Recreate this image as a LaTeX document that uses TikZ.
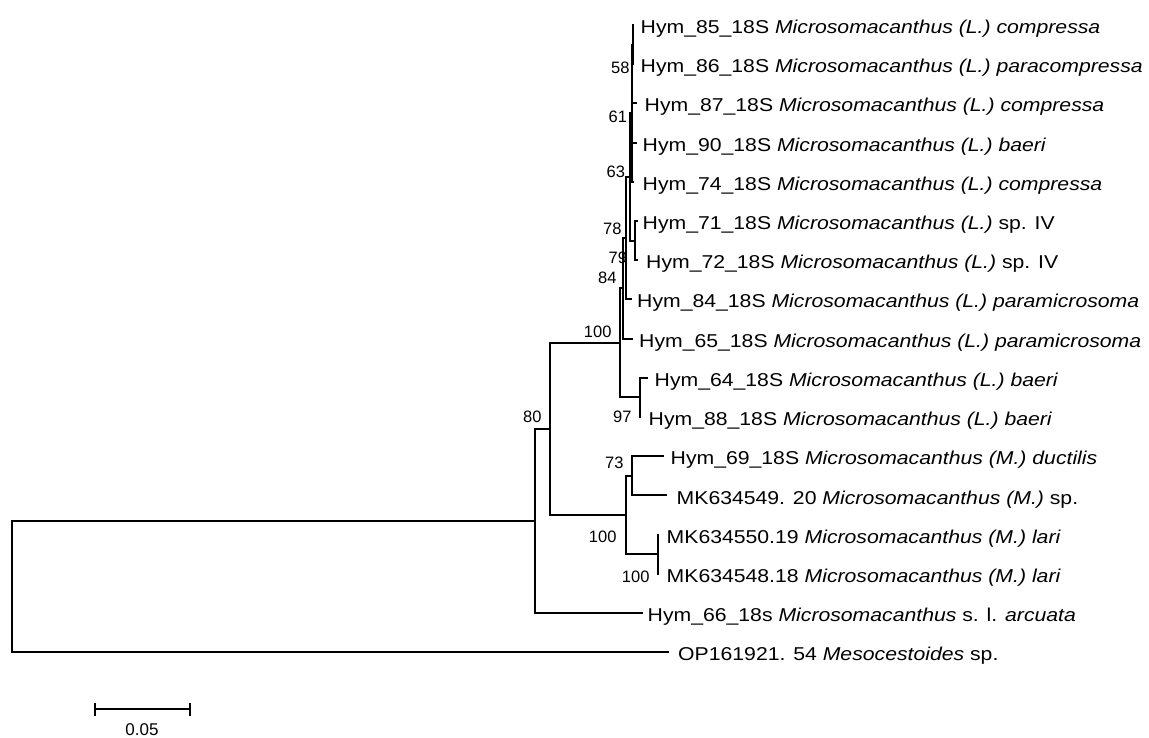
\documentclass[tikz,border=0pt]{standalone}
\usepackage{fontspec}
\setmainfont{Liberation Sans}
\usetikzlibrary{arrows.meta}

\begin{document}
\begin{tikzpicture}[x=1pt, y=-1pt, line width=2.1pt, line cap=rect]
  \tikzset{
    taxon_node/.style={anchor=base west, inner sep=0pt, xscale=1.14, font=\fontsize{18.6}{20}\selectfont},
    boot_node/.style={anchor=east, inner sep=0pt, font=\fontsize{16.5}{18}\selectfont},
    scale_node/.style={inner sep=0pt, font=\fontsize{17}{18}\selectfont}
  }
  \useasboundingbox (0,0) rectangle (1149,738);

  % Nodos internos del árbol
  \coordinate (root) at (12,586.6);
  \coordinate (n_out) at (535,521);
  \coordinate (n80) at (550,429);
  \coordinate (n100a) at (620,342.9);
  \coordinate (n84) at (623,288.4);
  \coordinate (n78) at (626,238.2);
  \coordinate (n63) at (630,176.9);
  \coordinate (n_top) at (632,113.2);
  \coordinate (n58) at (633,44.6);
  \coordinate (n79) at (635,240.6);
  \coordinate (n97) at (640,397.4);
  \coordinate (n100b) at (626,515);
  \coordinate (n73) at (632,475.8);
  \coordinate (n100c) at (658,554.2);

  % Extremos de las ramas terminales
  \coordinate (t85) at (633,25);
  \coordinate (t86) at (633,64.2);
  \coordinate (t87) at (636,103.4);
  \coordinate (t90) at (636,142.6);
  \coordinate (t74) at (633,181.8);
  \coordinate (t71) at (637,221);
  \coordinate (t72) at (637,260.2);
  \coordinate (t84) at (631,299.4);
  \coordinate (t65) at (632,338.6);
  \coordinate (t64) at (647,377.8);
  \coordinate (t88) at (640,417);
  \coordinate (t69) at (663,456.2);
  \coordinate (t549) at (666,495.4);
  \coordinate (t550) at (658,534.6);
  \coordinate (t548) at (658,573.8);
  \coordinate (t66) at (642,613);
  \coordinate (t_op) at (668,652.2);

  % Nombres de los taxones
  \node[taxon_node] (l85) at (639.5,33.6) {Hym\_85\_18S \textit{Microsomacanthus (L.) compressa}};
  \node[taxon_node] (l86) at (639.5,72.8) {Hym\_86\_18S \textit{Microsomacanthus (L.) paracompressa}};
  \node[taxon_node] (l87) at (643.5,112) {Hym\_87\_18S \textit{Microsomacanthus (L.) compressa}};
  \node[taxon_node] (l90) at (641.5,151.2) {Hym\_90\_18S \textit{Microsomacanthus (L.) baeri}};
  \node[taxon_node] (l74) at (641.5,190.4) {Hym\_74\_18S \textit{Microsomacanthus (L.) compressa}};
  \node[taxon_node] (l71) at (641.5,229.6) {Hym\_71\_18S \textit{Microsomacanthus (L.)} sp. IV};
  \node[taxon_node] (l72) at (645,268.8) {Hym\_72\_18S \textit{Microsomacanthus (L.)} sp. IV};
  \node[taxon_node] (l84) at (636,308) {Hym\_84\_18S \textit{Microsomacanthus (L.) paramicrosoma}};
  \node[taxon_node] (l65) at (638,347.2) {Hym\_65\_18S \textit{Microsomacanthus (L.) paramicrosoma}};
  \node[taxon_node] (l64) at (653.5,386.4) {Hym\_64\_18S \textit{Microsomacanthus (L.) baeri}};
  \node[taxon_node] (l88) at (647.5,425.6) {Hym\_88\_18S \textit{Microsomacanthus (L.) baeri}};
  \node[taxon_node] (l69) at (669.5,464.8) {Hym\_69\_18S \textit{Microsomacanthus (M.) ductilis}};
  \node[taxon_node] (l549) at (675.5,504) {MK634549. 20 \textit{Microsomacanthus (M.)} sp.};
  \node[taxon_node] (l550) at (665.5,543.2) {MK634550.19 \textit{Microsomacanthus (M.) lari}};
  \node[taxon_node] (l548) at (665.5,582.4) {MK634548.18 \textit{Microsomacanthus (M.) lari}};
  \node[taxon_node] (l66) at (646.5,621.6) {Hym\_66\_18s \textit{Microsomacanthus} s. l. \textit{arcuata}};
  \node[taxon_node] (l_op) at (677,660.8) {OP161921. 54 \textit{Mesocestoides} sp.};

  % Ramas (cada una en codo desde su nodo padre)
  \draw (root) |- (n_out) (root) |- (t_op);
  \draw (n_out) |- (n80) (n_out) |- (t66);
  \draw (n80) |- (n100a) (n80) |- (n100b);
  \draw (n100a) |- (n84) (n100a) |- (n97);
  \draw (n84) |- (n78) (n84) |- (t65);
  \draw (n78) |- (n63) (n78) |- (t84);
  \draw (n63) |- (n_top) (n63) |- (n79);
  \draw (n_top) |- (n58) (n_top) |- (t87) (n_top) |- (t90) (n_top) |- (t74);
  \draw (n58) |- (t85) (n58) |- (t86);
  \draw (n79) |- (t71) (n79) |- (t72);
  \draw (n97) |- (t64) (n97) |- (t88);
  \draw (n100b) |- (n73) (n100b) |- (n100c);
  \draw (n73) |- (t69) (n73) |- (t549);
  \draw (n100c) |- (t550) (n100c) |- (t548);

  % Valores de bootstrap
  \node[boot_node] (b58) at (630.5,68) {58};
  \node[boot_node] (b61) at (628,117) {61};
  \node[boot_node] (b63) at (626,172) {63};
  \node[boot_node] (b78) at (622.5,228.5) {78};
  \node[boot_node] (b79) at (628,258) {79};
  \node[boot_node] (b84) at (617.5,278) {84};
  \node[boot_node] (b100a) at (612.5,332) {100};
  \node[boot_node] (b97) at (632.5,417) {97};
  \node[boot_node] (b80) at (542.5,417) {80};
  \node[boot_node] (b73) at (624.5,463) {73};
  \node[boot_node] (b100b) at (617.5,537) {100};
  \node[boot_node] (b100c) at (650.5,577) {100};

  % Barra de escala
  \coordinate (sb_left) at (94,709);
  \coordinate (sb_right) at (191,709);
  \draw[line cap=butt, {Bar[width=13pt]}-{Bar[width=13pt]}] (sb_left) -- (sb_right);
  \node[scale_node] (sb_text) at (142,730) {0.05};
\end{tikzpicture}
\end{document}
